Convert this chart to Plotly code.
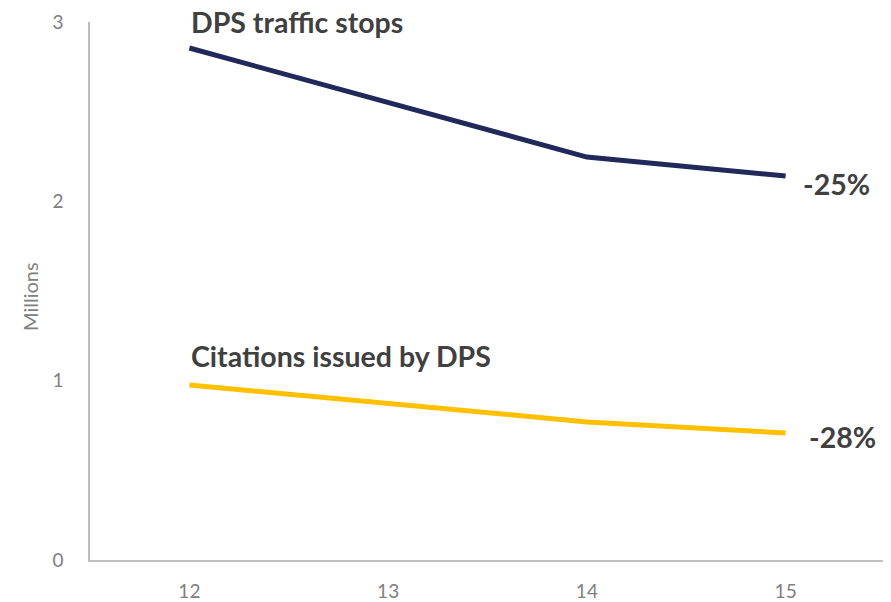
import plotly.graph_objects as go

years = ["12", "13", "14", "15"]
traffic_stops = [2.855, 2.554, 2.247, 2.141]
citations = [0.976, 0.872, 0.770, 0.708]
y_ticks = [0, 1, 2, 3]

navy = "#21285A"
gold = "#FFC000"
txt = "#404040"
gray = "#808080"

# the page body adds an 8px margin, so the figure is sized to fit inside the window
W, H = 883, 594
ML, MR, MT, MB = 82, 6, 14, 42
pw, ph = W - ML - MR, H - MT - MB

fig = go.Figure()
fig.add_trace(go.Scatter(x=years, y=traffic_stops, mode="lines",
                         line=dict(color=navy, width=5), hoverinfo="skip"))
fig.add_trace(go.Scatter(x=years, y=citations, mode="lines",
                         line=dict(color=gold, width=5), hoverinfo="skip"))

lab_font = dict(family="Lato, 'Open Sans', sans-serif", size=28.5, color=txt)
fig.add_annotation(x=0, y=3.0, xref="x", yref="y", text="<b>DPS traffic stops</b>",
                   showarrow=False, xanchor="left", yanchor="middle", xshift=0, font=lab_font)
fig.add_annotation(x=0, y=1.14, xref="x", yref="y", text="<b>Citations issued by DPS</b>",
                   showarrow=False, xanchor="left", yanchor="middle", xshift=0, font=lab_font)
fig.add_annotation(x=3, y=traffic_stops[-1], xref="x", yref="y", text="<b>-25%</b>",
                   showarrow=False, xanchor="left", yanchor="middle", xshift=15, yshift=-8, font=lab_font)
fig.add_annotation(x=3, y=citations[-1], xref="x", yref="y", text="<b>-28%</b>",
                   showarrow=False, xanchor="left", yanchor="middle", xshift=21, yshift=-4, font=lab_font)
fig.add_annotation(x=-60 / pw, y=(552 - 289) / ph, xref="paper", yref="paper", text="Millions",
                   showarrow=False, textangle=-90, xanchor="center", yanchor="middle",
                   font=dict(family="Lato, 'Open Sans', sans-serif", size=20, color=gray))

fig.update_layout(
    width=W, height=H,
    margin=dict(l=ML, r=MR, t=MT, b=MB),
    paper_bgcolor="white", plot_bgcolor="white",
    showlegend=False,
    font=dict(family="Lato, 'Open Sans', sans-serif", color=gray, size=19),
)
fig.update_xaxes(type="category", range=[-0.5, 3.5], showgrid=False, zeroline=False,
                 showline=True, linecolor="#BFBFBF", linewidth=1.5, automargin=False,
                 ticks="", ticklabelstandoff=13, tickfont=dict(size=19, color=gray))
fig.update_yaxes(range=[0, 3], tickvals=y_ticks, showgrid=False, zeroline=False,
                 showline=True, linecolor="#BFBFBF", linewidth=1.5, automargin=False,
                 ticks="", ticklabelstandoff=21, tickfont=dict(size=19, color=gray))

fig.write_html("out.html")
